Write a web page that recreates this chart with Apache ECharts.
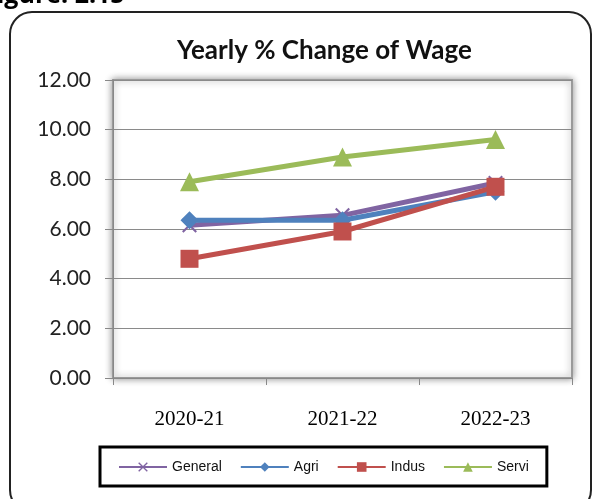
<!DOCTYPE html>
<html>
<head>
    <meta charset="utf-8">
    <title>Yearly % Change of Wage</title>
    <script src="https://cdn.jsdelivr.net/npm/echarts@6/dist/echarts.min.js"></script>
    <style>
        html, body { margin: 0; padding: 0; background: #fff; }
        #main { width: 596px; height: 499px; }
    </style>
</head>
<body>
<div id="main"></div>
<script>
    // data
    var years = ['2020-21', '2021-22', '2022-23'];
    var general = [6.15, 6.55, 7.85];
    var agri = [6.35, 6.35, 7.5];
    var indus = [4.8, 5.9, 7.7];
    var servi = [7.9, 8.9, 9.6];
    var yTicks = [0, 2, 4, 6, 8, 10, 12];

    // X shaped marker (filled polygon so the line series can paint it)
    var crossSymbol = 'path://M0,1 L1,0 L5,4 L9,0 L10,1 L6,5 L10,9 L9,10 L5,6 L1,10 L0,9 L4,5 Z';

    function lineSeries(name, data, color, symbol, size) {
        return {
            name: name,
            type: 'line',
            data: data,
            symbol: symbol,
            symbolSize: size,
            showAllSymbol: true,
            itemStyle: { color: color },
            lineStyle: { color: color, width: 5 },
            emphasis: { disabled: true }
        };
    }

    var myChart = echarts.init(document.getElementById('main'));
    myChart.setOption({
        animation: false,
        backgroundColor: '#fff',
        title: {
            text: 'Yearly % Change of Wage',
            left: 172,
            top: 33,
            textStyle: {
                fontFamily: 'Lato',
                fontSize: 26,
                fontWeight: 'bold',
                color: '#111'
            }
        },
        graphic: [
            {
                type: 'text',
                style: {
                    x: -17,
                    y: 8,
                    text: 'Figure: 2.15',
                    font: 'bold 25px "Open Sans"',
                    fill: '#000',
                    verticalAlign: 'bottom'
                }
            },
            {
                type: 'rect',
                shape: { x: 10, y: 12, width: 581, height: 500, r: 22 },
                style: { fill: 'none', stroke: '#222', lineWidth: 2 },
                silent: true,
                z: -1
            }
        ],
        legend: {
            data: ['General', 'Agri', 'Indus', 'Servi'],
            left: 100,
            top: 447,
            width: 448,
            padding: [13, 18, 12, 18],
            borderColor: '#000',
            borderWidth: 3,
            itemWidth: 48,
            itemHeight: 12,
            itemGap: 18,
            textStyle: {
                fontFamily: 'Liberation Sans Narrow, Liberation Sans',
                fontSize: 14,
                color: '#111'
            }
        },
        grid: {
            left: 113,
            right: 24,
            top: 80,
            bottom: 121,
            show: true,
            backgroundColor: '#fff',
            borderColor: '#9a9a9a',
            borderWidth: 2,
            shadowColor: 'rgba(0,0,0,0.4)',
            shadowBlur: 7
        },
        xAxis: {
            type: 'category',
            data: years,
            boundaryGap: true,
            axisLine: { show: true, lineStyle: { color: '#888', width: 1 } },
            axisTick: { show: true, length: 7, lineStyle: { color: '#888' } },
            axisLabel: {
                margin: 31,
                fontFamily: 'Liberation Serif',
                fontSize: 21,
                color: '#000'
            },
            splitLine: { show: false }
        },
        yAxis: {
            type: 'value',
            min: yTicks[0],
            max: yTicks[yTicks.length - 1],
            interval: 2,
            axisLine: { show: true, lineStyle: { color: '#888', width: 1 } },
            axisTick: { show: true, length: 8, lineStyle: { color: '#888' } },
            axisLabel: {
                margin: 22,
                fontFamily: 'Lato',
                fontSize: 21,
                color: '#222',
                formatter: function (v) { return v.toFixed(2); }
            },
            splitLine: { show: true, lineStyle: { color: '#8a8a8a', width: 1 } }
        },
        series: [
            lineSeries('General', general, '#8064A2', crossSymbol, 15),
            lineSeries('Agri', agri, '#4F81BD', 'diamond', 18),
            lineSeries('Indus', indus, '#C0504D', 'rect', 18),
            lineSeries('Servi', servi, '#9BBB59', 'triangle', 19)
        ]
    });
</script>
</body>
</html>
